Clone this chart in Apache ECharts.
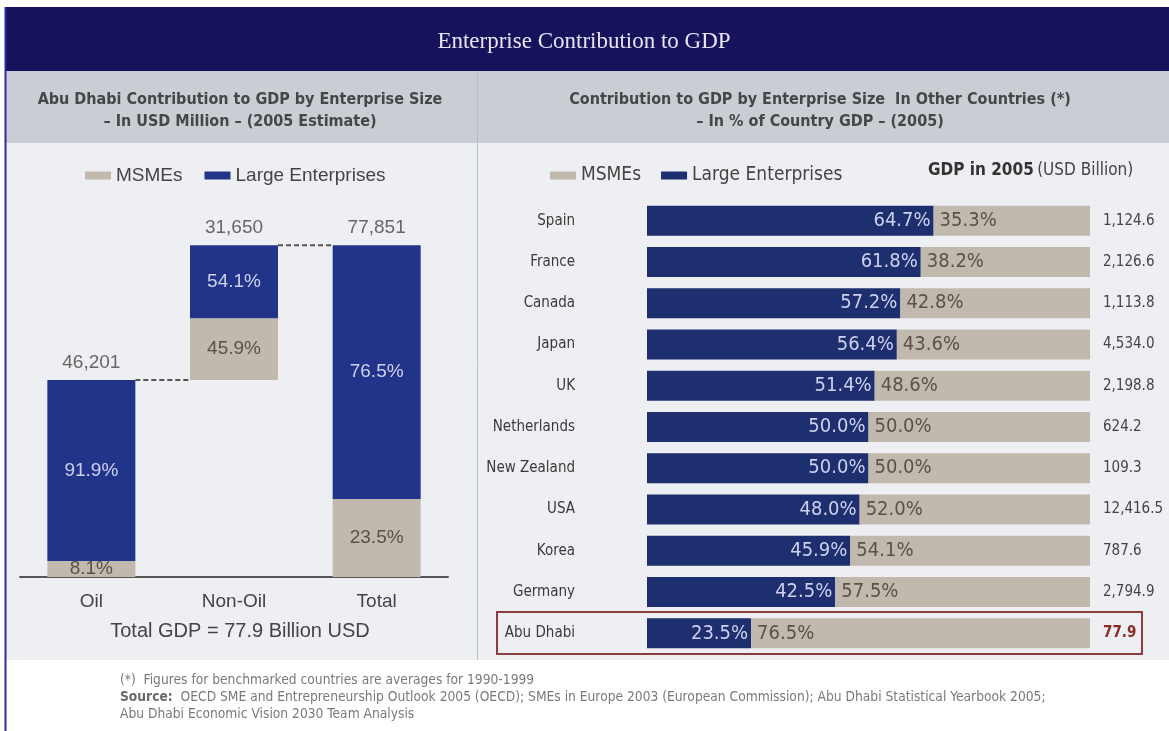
<!DOCTYPE html>
<html>
<head>
<meta charset="utf-8">
<title>Enterprise Contribution to GDP</title>
<script src="https://cdn.jsdelivr.net/npm/echarts@6/dist/echarts.min.js"></script>
<style>
  html, body { margin: 0; padding: 0; background: #fff; }
  #chart { width: 1169px; height: 731px; }
</style>
</head>
<body>
<div id="chart"></div>
<script>
// left panel: Abu Dhabi waterfall (USD million, 2005 estimate)
const leftCats = ['Oil', 'Non-Oil', 'Total']
const leftTotals = [46201, 31650, 77851]
const leftBase = [0, 46201, 0]
const leftMsmePct = [8.1, 45.9, 23.5]
const leftLargePct = [91.9, 54.1, 76.5]

// right panel: other countries, % of GDP
const countries = ['Spain', 'France', 'Canada', 'Japan', 'UK', 'Netherlands', 'New Zealand', 'USA', 'Korea', 'Germany', 'Abu Dhabi']
const largePct = [64.7, 61.8, 57.2, 56.4, 51.4, 50.0, 50.0, 48.0, 45.9, 42.5, 23.5]
const msmePct = [35.3, 38.2, 42.8, 43.6, 48.6, 50.0, 50.0, 52.0, 54.1, 57.5, 76.5]
const gdp2005 = ['1,124.6', '2,126.6', '1,113.8', '4,534.0', '2,198.8', '624.2', '109.3', '12,416.5', '787.6', '2,794.9', '77.9']

const SANS = '"Liberation Sans", Arial, sans-serif'
const NARROW = '"Liberation Sans Narrow", "DejaVu Sans Condensed", sans-serif'
const NAVY_L = '#22348a'
const NAVY_R = '#1d2f6f'
const TAN = '#c2b9ae'

const leftMsme = leftTotals.map((t, i) => Math.round(t * leftMsmePct[i] / 100))
const leftLarge = leftTotals.map((t, i) => t - leftMsme[i])
const leftTops = leftTotals.map((t, i) => [i, leftBase[i] + t])
// dashed connectors: from bar i to bar i+1 at the running total
const connectors = [[0, leftTotals[0]], [1, leftBase[1] + leftTotals[1]]]

const chart = echarts.init(document.getElementById('chart'))

chart.setOption({
  animation: false,
  backgroundColor: '#ffffff',
  graphic: [
    { type: 'rect', z: -10, shape: { x: 6, y: 7, width: 1163, height: 64 }, style: { fill: '#16125c' } },
    { type: 'rect', z: -10, shape: { x: 6, y: 71, width: 1163, height: 72 }, style: { fill: '#c9cdd4' } },
    { type: 'rect', z: -10, shape: { x: 6, y: 143, width: 1163, height: 517 }, style: { fill: '#eeeff2' } },
    { type: 'line', z: -5, shape: { x1: 5.5, y1: 7, x2: 5.5, y2: 731 }, style: { stroke: '#2b2ba6', lineWidth: 2 } },
    { type: 'line', z: -5, shape: { x1: 477.5, y1: 71, x2: 477.5, y2: 660 }, style: { stroke: '#b8bcc3', lineWidth: 1 } },
    {
      type: 'text', x: 584, y: 42,
      style: {
        text: 'Enterprise Contribution to GDP', fill: '#e6e6f6', font: '23px "Liberation Serif", serif',
        align: 'center', verticalAlign: 'middle'
      }
    },
    {
      type: 'text', x: 240, y: 111,
      style: {
        text: 'Abu Dhabi Contribution to GDP by Enterprise Size\n– In USD Million – (2005 Estimate)',
        fill: '#464646', font: 'bold 16px ' + NARROW, align: 'center', verticalAlign: 'middle', lineHeight: 22
      }
    },
    {
      type: 'text', x: 820, y: 111,
      style: {
        text: 'Contribution to GDP by Enterprise Size  In Other Countries (*)\n– In % of Country GDP – (2005)',
        fill: '#464646', font: 'bold 16px ' + NARROW, align: 'center', verticalAlign: 'middle', lineHeight: 22
      }
    },
    {
      type: 'text', x: 240, y: 631,
      style: { text: 'Total GDP = 77.9 Billion USD', fill: '#444', font: '20px ' + SANS, align: 'center', verticalAlign: 'middle' }
    },
    {
      type: 'text', x: 928, y: 171,
      style: {
        text: '{b|GDP in 2005} {n|(USD Billion)}', verticalAlign: 'middle',
        rich: {
          b: { fill: '#333', font: 'bold 17px ' + NARROW },
          n: { fill: '#444', font: '17px ' + NARROW }
        }
      }
    },
    {
      type: 'rect', z: 20, shape: { x: 497, y: 612, width: 645, height: 42 },
      style: { fill: 'none', stroke: '#8b3c3c', lineWidth: 2 }
    },
    {
      type: 'text', x: 120, y: 680,
      style: { text: '(*)  Figures for benchmarked countries are averages for 1990-1999', fill: '#7a7a7a', font: '13.7px ' + NARROW, verticalAlign: 'middle' }
    },
    {
      type: 'text', x: 120, y: 697,
      style: {
        text: '{b|Source:}  OECD SME and Entrepreneurship Outlook 2005 (OECD); SMEs in Europe 2003 (European Commission); Abu Dhabi Statistical Yearbook 2005;',
        fill: '#7a7a7a', font: '13.7px ' + NARROW, verticalAlign: 'middle',
        rich: { b: { fill: '#6a6a6a', font: 'bold 13.7px ' + NARROW } }
      }
    },
    {
      type: 'text', x: 120, y: 714,
      style: { text: 'Abu Dhabi Economic Vision 2030 Team Analysis', fill: '#7a7a7a', font: '13.7px ' + NARROW, verticalAlign: 'middle' }
    }
  ],
  legend: [
    {
      left: 80, top: 161, icon: 'rect', itemWidth: 26, itemHeight: 8, itemGap: 22,
      data: ['MSMEs', 'Large Enterprises'],
      textStyle: { color: '#444', fontSize: 19, fontFamily: SANS },
      selectedMode: false
    },
    {
      left: 545, top: 161, icon: 'rect', itemWidth: 26, itemHeight: 8, itemGap: 20,
      data: ['MSMEs', { name: 'Large Enterprises', itemStyle: { color: NAVY_R } }],
      textStyle: { color: '#444', fontSize: 19, fontFamily: NARROW },
      selectedMode: false
    }
  ],
  grid: [
    { left: 20, right: 721, top: 236, bottom: 154 },
    { left: 647, right: 79, top: 200, bottom: 77 }
  ],
  xAxis: [
    {
      gridIndex: 0, type: 'category', data: leftCats,
      axisLine: { lineStyle: { color: '#555', width: 2 } },
      axisTick: { show: false },
      axisLabel: { color: '#444', fontSize: 19, fontFamily: SANS, margin: 15 }
    },
    { gridIndex: 1, type: 'value', min: 0, max: 100, show: false }
  ],
  yAxis: [
    { gridIndex: 0, type: 'value', min: 0, max: 80000, show: false },
    {
      gridIndex: 1, type: 'category', data: countries, inverse: true,
      axisLine: { show: false }, axisTick: { show: false },
      axisLabel: { color: '#3a3a3a', fontSize: 15, fontFamily: NARROW, margin: 72, align: 'right' }
    },
    {
      gridIndex: 1, type: 'category', data: gdp2005, inverse: true, position: 'right',
      axisLine: { show: false }, axisTick: { show: false },
      axisLabel: {
        color: '#444', fontSize: 15, fontFamily: NARROW, margin: 13, align: 'left',
        formatter: (v, i) => i === gdp2005.length - 1 ? '{hl|' + v + '}' : v,
        rich: { hl: { color: '#8b2a2a', fontWeight: 'bold', fontSize: 15, fontFamily: NARROW } }
      }
    }
  ],
  series: [
    {
      name: 'base', type: 'bar', stack: 'wf', xAxisIndex: 0, yAxisIndex: 0,
      data: leftBase, barWidth: 88, silent: true,
      itemStyle: { color: 'rgba(0,0,0,0)' }
    },
    {
      name: 'MSMEs', type: 'bar', stack: 'wf', xAxisIndex: 0, yAxisIndex: 0,
      data: leftMsme, barWidth: 88, itemStyle: { color: TAN },
      label: {
        show: true, position: 'inside', color: '#5a5147', fontSize: 19, fontFamily: SANS,
        formatter: (p) => leftMsmePct[p.dataIndex].toFixed(1) + '%'
      }
    },
    {
      name: 'Large Enterprises', type: 'bar', stack: 'wf', xAxisIndex: 0, yAxisIndex: 0,
      data: leftLarge, barWidth: 88, itemStyle: { color: NAVY_L },
      label: {
        show: true, position: 'inside', color: '#cdd1f0', fontSize: 19, fontFamily: SANS,
        formatter: (p) => leftLargePct[p.dataIndex].toFixed(1) + '%'
      }
    },
    {
      name: 'totals', type: 'scatter', xAxisIndex: 0, yAxisIndex: 0,
      data: leftTops, symbolSize: 0, silent: true,
      label: {
        show: true, position: 'top', distance: 8, color: '#444', fontSize: 19, fontFamily: SANS,
        formatter: (p) => leftTotals[p.dataIndex].toLocaleString('en-US')
      }
    },
    {
      name: 'connectors', type: 'custom', xAxisIndex: 0, yAxisIndex: 0,
      data: connectors, silent: true,
      renderItem: (params, api) => {
        const p = api.coord([api.value(0), api.value(1)])
        const band = api.size([1, 0])[0]
        return {
          type: 'line',
          shape: { x1: p[0] + 44, y1: p[1], x2: p[0] + band - 44, y2: p[1] },
          style: { stroke: '#555', lineWidth: 2, lineDash: [5, 3] }
        }
      }
    },
    {
      name: 'Large Enterprises', type: 'bar', stack: 'pct', xAxisIndex: 1, yAxisIndex: 1,
      data: largePct, barWidth: 30, itemStyle: { color: NAVY_R },
      label: {
        show: true, position: 'insideRight', distance: 3, color: '#cdd1ee', fontSize: 20, fontFamily: NARROW,
        formatter: (p) => p.value.toFixed(1) + '%'
      }
    },
    {
      name: 'MSMEs', type: 'bar', stack: 'pct', xAxisIndex: 1, yAxisIndex: 1,
      data: msmePct, barWidth: 30, itemStyle: { color: TAN },
      label: {
        show: true, position: 'insideLeft', distance: 6, color: '#5a5147', fontSize: 20, fontFamily: NARROW,
        formatter: (p) => p.value.toFixed(1) + '%'
      }
    }
  ]
})
</script>
</body>
</html>
